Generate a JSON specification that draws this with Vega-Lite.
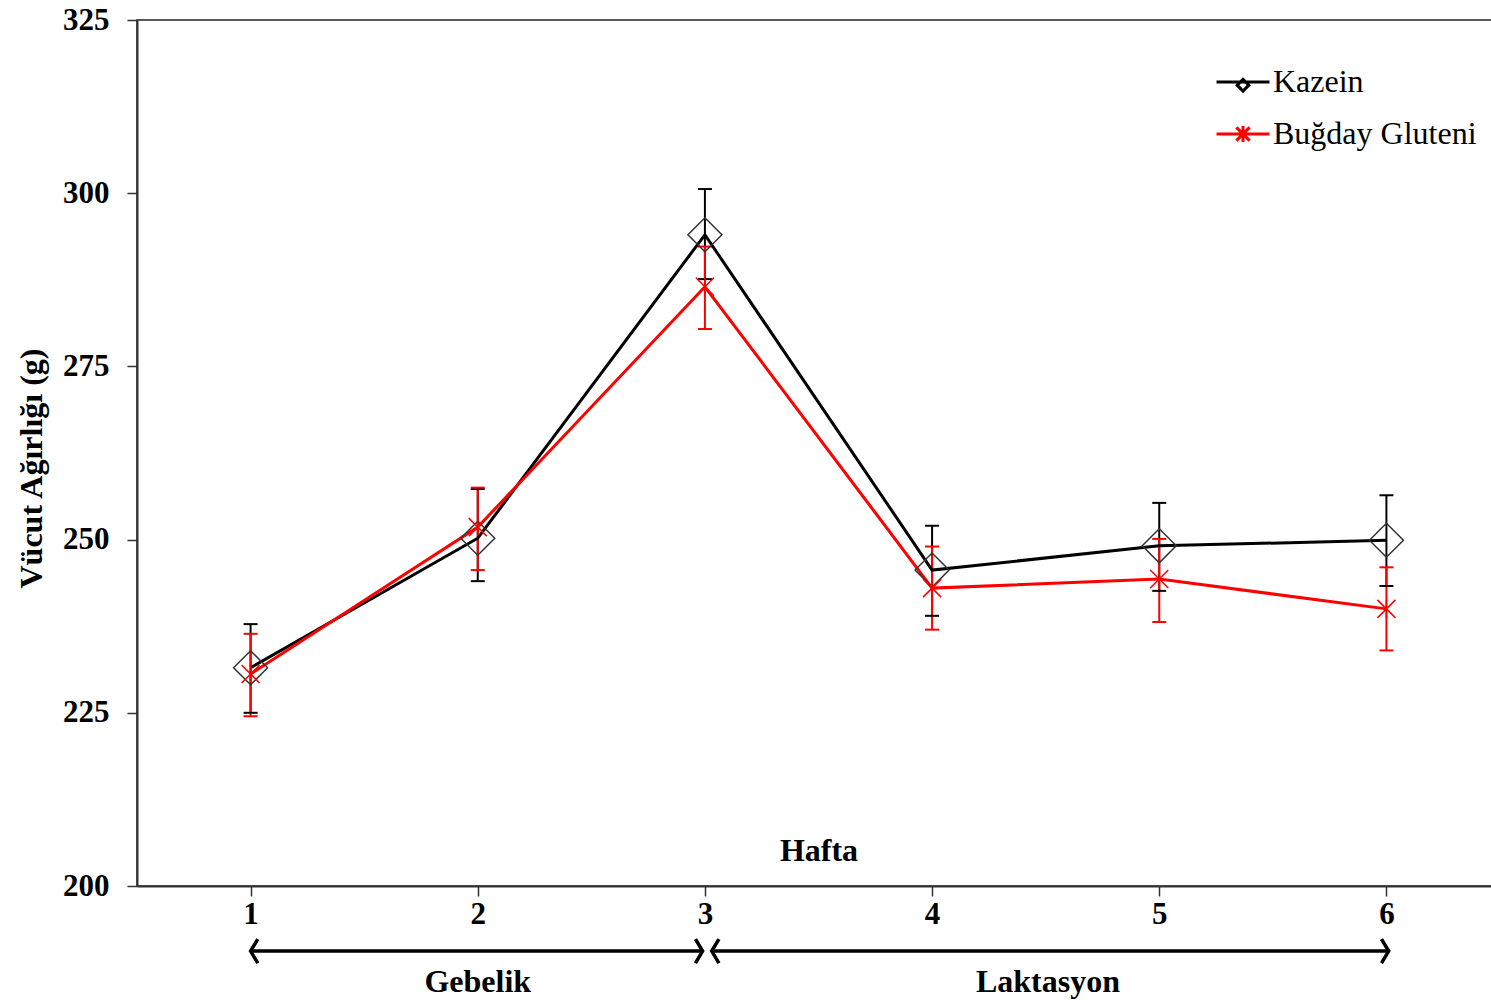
{
  "$schema": "https://vega.github.io/schema/vega-lite/v6.json",
  "width": 1363,
  "height": 866,
  "autosize": {"type": "none"},
  "padding": {"left": 137, "top": 20, "right": 0, "bottom": 119},
  "background": "white",
  "config": {
    "view": {"stroke": "#222", "strokeWidth": 1.5},
    "font": "Liberation Serif",
    "axis": {
      "grid": false,
      "labelFont": "Liberation Serif",
      "labelFontWeight": "bold",
      "labelFontSize": 31,
      "labelColor": "black",
      "labelFlush": false,
      "labelOverlap": false,
      "titleFont": "Liberation Serif",
      "titleFontWeight": "bold",
      "titleColor": "black",
      "titleFontSize": 32,
      "domainColor": "#333",
      "domainWidth": 2,
      "tickColor": "#333",
      "tickWidth": 1.5,
      "tickSize": 10
    }
  },
  "datasets": {
    "weights": [
      {"week": 1, "group": "Kazein", "mean": 231.5, "lo": 225.0, "hi": 237.8},
      {"week": 2, "group": "Kazein", "mean": 250.2, "lo": 244.0, "hi": 257.3},
      {"week": 3, "group": "Kazein", "mean": 294.0, "lo": 287.6, "hi": 300.6},
      {"week": 4, "group": "Kazein", "mean": 245.6, "lo": 239.0, "hi": 252.0},
      {"week": 5, "group": "Kazein", "mean": 249.1, "lo": 242.6, "hi": 255.3},
      {"week": 6, "group": "Kazein", "mean": 249.9, "lo": 243.3, "hi": 256.4},
      {"week": 1, "group": "Buğday Gluteni", "mean": 230.6, "lo": 224.5, "hi": 236.4},
      {"week": 2, "group": "Buğday Gluteni", "mean": 251.8, "lo": 245.6, "hi": 257.5},
      {"week": 3, "group": "Buğday Gluteni", "mean": 286.5, "lo": 280.4, "hi": 292.3},
      {"week": 4, "group": "Buğday Gluteni", "mean": 243.0, "lo": 237.0, "hi": 249.0},
      {"week": 5, "group": "Buğday Gluteni", "mean": 244.3, "lo": 238.1, "hi": 250.1},
      {"week": 6, "group": "Buğday Gluteni", "mean": 240.0, "lo": 234.0, "hi": 246.0}
    ],
    "periods": [
      {"label": "Gebelik", "start": 1, "end": 2.99, "mid": 2},
      {"label": "Laktasyon", "start": 3.03, "end": 6.01, "mid": 4.51}
    ]
  },
  "layer": [
    {
      "data": {"name": "weights"},
      "mark": {"type": "rule", "strokeWidth": 2},
      "encoding": {
        "x": {
          "field": "week", "type": "quantitative",
          "scale": {"domain": [0.5, 6.5], "nice": false, "zero": false},
          "axis": {"title": "Hafta", "values": [1, 2, 3, 4, 5, 6], "format": "d", "labelPadding": 3, "titleY": -36, "titleBaseline": "middle"}
        },
        "y": {
          "field": "lo", "type": "quantitative",
          "scale": {"domain": [200, 325], "nice": false, "zero": false},
          "axis": {"title": "Vücut Ağırlığı (g)", "values": [200, 225, 250, 275, 300, 325], "format": "d", "labelPadding": 18, "titleX": -106, "titleY": 448, "titleBaseline": "middle"}
        },
        "y2": {"field": "hi"},
        "color": {"condition": {"test": "datum.group === 'Kazein'", "value": "black"}, "value": "red"}
      }
    },
    {
      "data": {"name": "weights"},
      "mark": {"type": "tick", "orient": "horizontal", "size": 14, "thickness": 2, "opacity": 1},
      "encoding": {
        "x": {"field": "week", "type": "quantitative", "scale": {"domain": [0.5, 6.5], "nice": false, "zero": false}},
        "y": {"field": "lo", "type": "quantitative", "scale": {"domain": [200, 325], "nice": false, "zero": false}},
        "color": {"condition": {"test": "datum.group === 'Kazein'", "value": "black"}, "value": "red"}
      }
    },
    {
      "data": {"name": "weights"},
      "mark": {"type": "tick", "orient": "horizontal", "size": 14, "thickness": 2, "opacity": 1},
      "encoding": {
        "x": {"field": "week", "type": "quantitative", "scale": {"domain": [0.5, 6.5], "nice": false, "zero": false}},
        "y": {"field": "hi", "type": "quantitative", "scale": {"domain": [200, 325], "nice": false, "zero": false}},
        "color": {"condition": {"test": "datum.group === 'Kazein'", "value": "black"}, "value": "red"}
      }
    },
    {
      "data": {"name": "weights"},
      "mark": {"type": "line", "strokeWidth": 3},
      "encoding": {
        "x": {"field": "week", "type": "quantitative", "scale": {"domain": [0.5, 6.5], "nice": false, "zero": false}},
        "y": {"field": "mean", "type": "quantitative", "scale": {"domain": [200, 325], "nice": false, "zero": false}},
        "color": {
          "field": "group",
          "type": "nominal",
          "scale": {"domain": ["Kazein", "Buğday Gluteni"], "range": ["black", "red"]},
          "legend": {
            "orient": "none",
            "legendX": 1078,
            "legendY": 34,
            "title": null,
            "symbolSize": 2809,
            "symbolStrokeWidth": 3,
            "labelFont": "Liberation Serif",
            "labelFontSize": 32,
            "labelColor": "black",
            "labelLimit": 0,
            "labelOffset": 2,
            "rowPadding": 8,
            "padding": 0,
            "encode": {
              "symbols": {
                "update": {
                  "shape": {"signal": "datum.value === 'Kazein' ? 'M -1 0 L 1 0 M 0 -0.1 L 0.22 0.12 L 0 0.34 L -0.22 0.12 Z' : 'M -1 0 L 1 0 M -0.25 -0.25 L 0.25 0.25 M -0.25 0.25 L 0.25 -0.25 M 0 -0.3 L 0 0.3'"},
                  "stroke": {"signal": "datum.value === 'Kazein' ? 'black' : 'red'"},
                  "fill": {"value": "transparent"},
                  "strokeWidth": {"value": 3},
                  "size": {"value": 2809}
                }
              }
            }
          }
        }
      }
    },
    {
      "data": {"name": "weights"},
      "transform": [{"filter": "datum.group === 'Kazein'"}],
      "mark": {"type": "point", "shape": "diamond", "size": 1156, "filled": false, "stroke": "#333", "strokeWidth": 1.5, "opacity": 1},
      "encoding": {
        "x": {"field": "week", "type": "quantitative", "scale": {"domain": [0.5, 6.5], "nice": false, "zero": false}},
        "y": {"field": "mean", "type": "quantitative", "scale": {"domain": [200, 325], "nice": false, "zero": false}}
      }
    },
    {
      "data": {"name": "weights"},
      "transform": [{"filter": "datum.group !== 'Kazein'"}],
      "mark": {"type": "point", "shape": "M -1 -1 L 1 1 M -1 1 L 1 -1 M 0 -1 L 0 1", "size": 324, "filled": false, "stroke": "red", "strokeWidth": 1.5, "opacity": 1},
      "encoding": {
        "x": {"field": "week", "type": "quantitative", "scale": {"domain": [0.5, 6.5], "nice": false, "zero": false}},
        "y": {"field": "mean", "type": "quantitative", "scale": {"domain": [200, 325], "nice": false, "zero": false}}
      }
    },
    {
      "data": {"name": "periods"},
      "mark": {"type": "rule", "strokeWidth": 3.5, "color": "black"},
      "encoding": {
        "x": {"field": "start", "type": "quantitative", "scale": {"domain": [0.5, 6.5], "nice": false, "zero": false}},
        "x2": {"field": "end"},
        "y": {"datum": 190.6, "type": "quantitative", "scale": {"domain": [200, 325], "nice": false, "zero": false}}
      }
    },
    {
      "data": {"name": "periods"},
      "mark": {"type": "point", "shape": "M 0.6 -1 L 0 0 L 0.6 1", "size": 576, "filled": false, "stroke": "black", "strokeWidth": 3.5, "opacity": 1},
      "encoding": {
        "x": {"field": "start", "type": "quantitative", "scale": {"domain": [0.5, 6.5], "nice": false, "zero": false}},
        "y": {"datum": 190.6, "type": "quantitative", "scale": {"domain": [200, 325], "nice": false, "zero": false}}
      }
    },
    {
      "data": {"name": "periods"},
      "mark": {"type": "point", "shape": "M -0.6 -1 L 0 0 L -0.6 1", "size": 576, "filled": false, "stroke": "black", "strokeWidth": 3.5, "opacity": 1},
      "encoding": {
        "x": {"field": "end", "type": "quantitative", "scale": {"domain": [0.5, 6.5], "nice": false, "zero": false}},
        "y": {"datum": 190.6, "type": "quantitative", "scale": {"domain": [200, 325], "nice": false, "zero": false}}
      }
    },
    {
      "data": {"name": "periods"},
      "mark": {"type": "text", "font": "Liberation Serif", "fontWeight": "bold", "fontSize": 32, "baseline": "middle", "align": "center", "color": "black"},
      "encoding": {
        "x": {"field": "mid", "type": "quantitative", "scale": {"domain": [0.5, 6.5], "nice": false, "zero": false}},
        "y": {"datum": 186.1, "type": "quantitative", "scale": {"domain": [200, 325], "nice": false, "zero": false}},
        "text": {"field": "label"}
      }
    }
  ]
}
